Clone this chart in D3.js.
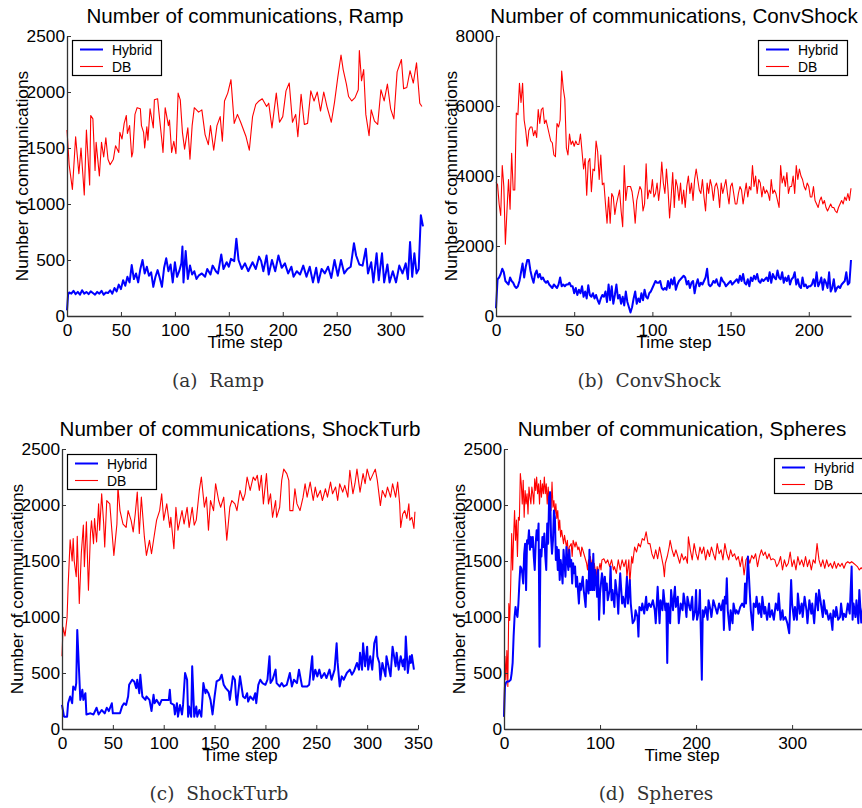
<!DOCTYPE html>
<html>
<head>
<meta charset="utf-8">
<script src="https://cdn.jsdelivr.net/npm/d3@7"></script>
<style>
  body { margin: 0; background: #fff; }
  svg { display: block; }
  text { font-family: "Liberation Sans", Arial, Helvetica, sans-serif; fill: #000; }
  .caption { font-family: "DejaVu Serif", serif; }
</style>
</head>
<body>
<svg id="chart" width="862" height="808"></svg>
<script>
// ---- data: [time step, number of communications] ----

const rampHybrid = [
  [0,50],[1,190],[2,210],[4,200],[6,225],[8,195],[10,215],[12,190],[14,230],[16,200],[18,215],[20,195],
  [22,220],[24,205],[26,190],[28,215],[30,200],[32,225],[34,190],[36,210],[38,205],[40,230],[42,200],
  [44,250],[46,220],[48,280],[50,240],[52,320],[54,270],[56,350],[58,300],[60,455],[62,330],[64,380],
  [66,300],[68,420],[70,500],[72,380],[74,440],[76,360],[78,390],[80,260],[82,350],[84,410],[86,340],
  [88,260],[90,430],[92,515],[94,400],[96,460],[98,300],[100,480],[102,350],[104,400],[106,470],[107,620],
  [108,300],[110,580],[112,330],[114,450],[116,370],[118,400],[120,330],[122,360],[125,380],[128,350],
  [130,420],[133,370],[135,450],[138,400],[140,380],[143,550],[145,420],[148,480],[150,440],[152,510],
  [155,490],[157,690],[159,500],[162,420],[165,470],[168,400],[172,480],[175,420],[178,530],[180,490],
  [182,400],[185,540],[187,370],[190,500],[193,400],[196,540],[199,430],[202,470],[205,380],[208,440],
  [210,350],[213,400],[216,370],[219,450],[222,350],[225,440],[228,300],[231,430],[233,300],[236,420],
  [239,380],[242,440],[245,340],[248,500],[251,360],[254,500],[257,380],[260,420],[263,440],[266,650],
  [268,540],[271,460],[274,450],[277,600],[279,380],[282,480],[284,300],[287,560],[289,320],[292,560],
  [294,300],[297,460],[299,300],[302,400],[305,300],[308,450],[311,380],[314,470],[316,330],[318,660],
  [320,350],[322,560],[324,380],[326,420],[328,900],[330,800]
];

const rampDB = [
  [0,1660],[2,1350],[5,1130],[8,1600],[11,1270],[13,1500],[16,1080],[18,1660],[21,1170],[22,1790],
  [24,1760],[26,1300],[27,1550],[30,1250],[32,1550],[34,1420],[36,1590],[38,1400],[40,1350],[43,1400],
  [45,1520],[48,1460],[49,1640],[51,1580],[53,1720],[55,1790],[56,1630],[58,1700],[60,1420],[61,1460],
  [63,1800],[65,1860],[68,1850],[69,1700],[71,1640],[72,1500],[74,1690],[75,1570],[77,1850],[80,1680],
  [81,1930],[84,1940],[85,1840],[88,1560],[89,1460],[91,1860],[94,1700],[95,1750],[97,1460],[99,1560],
  [101,1450],[103,1990],[105,1930],[107,1640],[109,1490],[112,1680],[114,1400],[116,1700],[118,1860],
  [122,1820],[125,1840],[128,1620],[131,1530],[133,1700],[136,1480],[139,1700],[142,1780],[144,1560],
  [146,1920],[149,1990],[152,2110],[155,1720],[158,1800],[161,1730],[166,1600],[169,1480],[172,1780],
  [175,1890],[178,1920],[181,1940],[185,1870],[187,1900],[190,1680],[194,1990],[197,1730],[200,1780],
  [203,2010],[206,2080],[209,1730],[212,1800],[214,1600],[217,1980],[220,1710],[223,1720],[226,2010],
  [229,1920],[232,2000],[235,1830],[238,2000],[241,1870],[245,1730],[248,1910],[251,2130],[254,2330],
  [256,2200],[259,2070],[261,1960],[264,1920],[267,1950],[270,2020],[271,2370],[273,2100],[275,2200],
  [277,1800],[280,1610],[282,1840],[285,1740],[288,1710],[291,2020],[294,1920],[297,2070],[300,1850],
  [303,1760],[306,2180],[310,2290],[312,2030],[315,2040],[318,2190],[321,2080],[324,2260],[327,1900],
  [329,1870]
];

// ConvShock: one value per time step, starting at step 0
const convShockHybrid = [
  220,1050,1100,1200,1350,1250,1000,950,900,1100,
  1000,950,850,800,850,1000,1250,1500,1100,1400,
  1600,1600,1300,1100,950,1200,1300,1100,1200,1050,
  1100,1000,950,1000,900,850,800,900,850,800,
  900,1100,850,900,850,900,900,950,850,850,
  650,800,600,750,650,850,550,700,500,880,
  600,550,650,500,600,450,350,500,600,550,
  700,400,900,450,850,350,600,900,500,600,
  350,550,300,700,400,250,100,250,500,700,
  350,500,400,650,450,750,550,500,650,700,
  800,900,1000,950,950,1000,800,750,800,750,
  1000,800,1050,900,1100,750,900,1000,1050,1100,
  1150,1100,900,1000,800,950,1000,650,900,1050,
  850,950,900,1000,1100,1350,900,850,900,1000,
  950,1050,900,850,1100,1000,950,850,900,950,
  1000,900,950,1000,1050,950,1150,1000,1200,950,
  900,1050,850,1100,1000,1150,1050,1200,1000,950,
  1050,1000,1050,1100,1000,1250,950,1200,1100,1050,
  1300,1100,1050,1250,950,1100,1000,1150,900,1050,
  1100,1250,900,1050,850,800,1100,850,900,800,
  850,850,900,1050,850,1250,850,950,1100,750,
  1050,950,800,1250,700,800,1050,700,800,850,
  800,900,950,1000,1250,900,950,1600
];

const convShockDB = [
  3820,3750,3200,2870,4300,3700,2050,3000,3900,3050,
  4650,3600,3600,5800,5750,6650,6100,6650,5600,5300,
  4850,5300,5400,5400,5150,5300,5100,5900,5500,5900,
  5950,5500,5600,5400,5200,5000,4950,4600,4550,5500,
  5400,5600,7000,6500,6200,4800,4600,5200,4900,5000,
  4850,5000,4900,4900,5200,4700,4200,4500,3450,4400,
  4500,3550,4200,4150,5000,4700,3900,4600,3750,3800,
  3200,2650,3400,2650,3500,3400,2900,3200,3400,3600,
  3000,2550,4300,3300,3700,3700,3700,3550,3200,2650,
  3300,3500,3700,3600,3000,3200,4350,3350,3600,3500,
  3900,3400,3500,3800,3300,3700,4400,3800,3500,4200,
  3600,2800,3400,4100,3100,3900,3700,3300,3800,3200,
  3600,3100,3700,4000,3500,3800,3300,3900,4200,3900,
  3600,3500,3900,3400,3000,3800,3500,3900,3700,3300,
  3700,3800,3600,3100,3800,3500,3700,3900,3500,3200,
  3700,3800,3500,3200,3200,3500,3700,3600,3200,3500,
  3800,3400,3700,3600,4300,3700,4000,3500,3900,3800,
  3400,3700,3500,3600,3500,3300,3900,3500,3600,3500,
  3300,3100,4300,3800,4000,3700,4100,3500,3700,3700,
  4000,3500,4300,3900,4200,4000,3900,3700,3600,3800,
  3700,3400,3400,3700,3300,3200,3100,3300,3400,3200,
  3300,3100,3000,3100,3200,3100,3100,3000,2950,3100,
  3200,3300,3200,3400,3300,3500,3300,3650
];

const shockTurbHybrid = [
  [0,215],[2,110],[5,110],[6,230],[8,290],[10,230],[11,380],[13,350],[14,410],[15,885],[17,470],
  [18,260],[20,350],[21,260],[23,320],[24,130],[28,140],[31,130],[34,190],[36,130],[39,170],[42,140],
  [44,190],[46,160],[49,230],[50,140],[57,140],[59,200],[61,230],[63,215],[65,290],[66,395],[69,440],
  [71,425],[73,365],[74,440],[76,320],[77,485],[79,290],[82,260],[83,290],[86,260],[88,160],[90,305],
  [91,230],[93,260],[96,215],[98,260],[101,260],[105,260],[106,350],[107,230],[110,215],[111,130],
  [113,230],[114,110],[116,215],[118,130],[119,215],[121,500],[123,440],[124,110],[125,200],[127,110],
  [128,560],[130,110],[132,200],[133,110],[135,170],[137,110],[139,410],[141,320],[142,350],[144,320],
  [146,260],[148,130],[150,290],[152,425],[155,440],[157,485],[159,395],[161,365],[164,335],[165,260],
  [168,470],[170,440],[171,290],[172,215],[175,470],[178,290],[180,275],[182,320],[183,245],[185,290],
  [188,260],[190,320],[191,230],[193,395],[195,440],[197,410],[200,395],[202,440],[204,650],[205,410],
  [207,440],[210,530],[211,410],[214,380],[216,410],[218,380],[221,395],[224,500],[226,380],[228,440],
  [231,410],[233,530],[236,380],[238,380],[241,380],[243,395],[246,650],[247,440],[249,530],[251,470],
  [253,530],[255,455],[258,500],[260,455],[263,530],[265,440],[268,530],[270,765],[271,590],[273,380],
  [275,470],[277,440],[280,500],[283,530],[285,485],[287,515],[290,590],[292,530],[293,680],[295,530],
  [296,765],[298,560],[300,735],[301,530],[303,650],[305,530],[307,765],[309,825],[310,650],[312,590],
  [313,440],[315,590],[318,470],[319,650],[321,560],[323,470],[325,735],[328,560],[329,680],[331,530],
  [333,650],[335,560],[336,620],[337,530],[338,825],[340,500],[342,650],[343,590],[344,660],[346,530]
];

const shockTurbDB = [
  [0,650],[1,910],[3,830],[5,1000],[6,1270],[8,1690],[10,1500],[11,1700],[12,1500],[14,1360],[15,1720],
  [17,1120],[19,1570],[21,1820],[22,1450],[24,1850],[26,1240],[28,1745],[29,1860],[31,1655],[32,1880],
  [34,1670],[36,2010],[37,1775],[39,2100],[41,1830],[42,1625],[44,2040],[47,2010],[49,1775],[51,1550],
  [54,1830],[55,2160],[57,1950],[60,1830],[63,1800],[65,1950],[68,1860],[70,1760],[72,1920],[74,2115],
  [76,1745],[78,2070],[81,1715],[83,1550],[86,1685],[88,1565],[90,1685],[93,1865],[96,1950],[98,2100],
  [100,1865],[103,2010],[106,1800],[107,1890],[110,1610],[112,1980],[114,1775],[118,1950],[120,1830],
  [123,1980],[125,1800],[128,1980],[130,1820],[132,1865],[135,2130],[137,2250],[140,1980],[142,2070],
  [144,1775],[146,2040],[149,1950],[151,2190],[154,2040],[156,1980],[159,2070],[162,1685],[165,1980],
  [167,2040],[170,2010],[172,1950],[175,2130],[178,2040],[180,2100],[182,2250],[185,2130],[188,2250],
  [190,2220],[192,2265],[194,2130],[196,2265],[198,2010],[201,2280],[203,2010],[205,2100],[207,1890],
  [210,2040],[211,1890],[214,1980],[216,2220],[218,2320],[221,2280],[223,2220],[224,1950],[227,1950],
  [229,2145],[231,2010],[234,1950],[237,2070],[239,2190],[241,2070],[244,2205],[247,2040],[249,2160],
  [251,2070],[254,2130],[256,2040],[259,2145],[261,2070],[264,2205],[266,2100],[269,2160],[271,2040],
  [273,2190],[276,2115],[278,2175],[281,2070],[283,2310],[286,2100],[288,2190],[290,2320],[293,2115],
  [296,2280],[298,2190],[300,2320],[303,2220],[306,2280],[308,2320],[310,2220],[313,1995],[315,2130],
  [318,2070],[320,2160],[323,2070],[325,2190],[328,2070],[330,2205],[332,2010],[333,1800],[335,1920],
  [337,1950],[339,1880],[341,2010],[342,1865],[344,1890],[346,1790],[347,1940]
];

const spheresHybrid = [
  [0,110],[1,380],[2,410],[3,425],[5,425],[7,440],[8,500],[9,590],[10,825],[11,1000],[12,1090],[13,1030],
  [14,1000],[15,1120],[16,1300],[17,1450],[18,1435],[19,1390],[20,1300],[21,1565],[22,1655],[23,1240],
  [24,1685],[25,1655],[26,1775],[27,1600],[28,1715],[29,1625],[30,1715],[31,1540],[32,1420],[33,1655],
  [34,1775],[35,1685],[36,1835],[37,735],[38,1600],[39,1540],[40,1715],[41,1625],[42,1745],[43,1540],
  [44,1420],[45,1835],[46,1655],[47,2070],[48,2115],[49,1715],[50,1565],[51,1685],[52,1950],[53,1890],
  [54,1510],[55,1625],[56,1420],[57,1600],[58,1330],[59,1510],[60,1420],[61,1300],[62,1600],[63,1480],
  [64,1360],[65,1625],[66,1510],[67,1420],[68,1600],[69,1450],[70,1510],[71,1300],[72,1480],[73,1390],
  [74,1450],[75,1270],[76,1360],[78,1120],[79,1300],[80,1240],[82,1360],[83,1240],[85,1090],[86,1330],
  [88,1210],[89,1600],[90,1240],[91,1480],[92,1240],[93,1565],[94,1240],[95,1420],[96,1330],[97,1180],
  [98,1420],[99,975],[100,1210],[101,1300],[102,1390],[103,1330],[104,1030],[105,1360],[106,1240],
  [107,1300],[108,1150],[110,1240],[111,1450],[112,1150],[113,1240],[115,1090],[116,1330],[118,1180],
  [119,1030],[120,1240],[121,1390],[123,1120],[124,1180],[126,1090],[128,1360],[129,1120],[130,1210],
  [131,1330],[132,1120],[134,945],[136,975],[137,1060],[139,1000],[140,825],[141,1090],[143,1060],
  [144,1120],[146,1030],[148,1180],[149,1060],[151,1120],[153,1090],[155,1150],[157,1060],[158,945],
  [160,1270],[162,945],[163,1150],[165,1060],[166,1240],[168,1060],[169,1120],[170,590],[171,1120],
  [173,945],[174,1240],[176,1060],[177,1180],[178,1270],[179,1090],[181,1180],[182,945],[184,1120],
  [186,1060],[187,1210],[189,1090],[190,1000],[191,1180],[193,1090],[194,1060],[196,1180],[197,975],
  [199,1060],[200,1240],[201,975],[203,1060],[204,1240],[206,440],[207,1060],[208,1000],[210,1090],
  [212,975],[213,1150],[215,1060],[216,1000],[218,1150],[220,1090],[222,1030],[224,1120],[226,1060],
  [228,1150],[229,885],[230,1180],[231,1120],[232,1345],[233,1060],[235,885],[236,1060],[238,945],
  [239,1120],[241,1030],[242,1060],[244,1030],[246,1090],[248,1120],[250,1090],[251,1300],[252,1120],
  [254,1540],[256,1210],[257,1060],[259,885],[260,1120],[262,1090],[263,1180],[265,1030],[266,1120],
  [268,1000],[269,1180],[271,1030],[272,1090],[274,975],[276,1120],[277,1000],[279,1060],[281,975],
  [283,1120],[285,1060],[286,1210],[288,975],[290,1060],[291,975],[293,1000],[295,945],[297,855],
  [299,1330],[300,1120],[302,975],[303,1090],[305,975],[306,1210],[308,1030],[310,1120],[311,1000],
  [313,1180],[315,1060],[316,945],[318,1150],[320,1030],[321,1120],[323,945],[325,1210],[327,1060],
  [328,1240],[330,1120],[332,1000],[333,1150],[335,1030],[336,1060],[338,975],[340,1030],[342,885],
  [343,1060],[345,1000],[346,1090],[348,975],[350,1000],[351,1120],[353,975],[354,1030],[356,1000],
  [358,1120],[360,1030],[362,1450],[363,975],[364,1120],[366,1000],[367,1150],[369,945],[370,1240],
  [372,950],[374,1100]
];

const spheresDB = [
  [0,110],[1,650],[2,440],[3,700],[4,380],[5,1120],[6,970],[7,1300],[8,1745],[9,1420],[10,1715],
  [11,1950],[12,1685],[13,1865],[14,1540],[15,1890],[16,1865],[17,2280],[18,2190],[19,2010],[20,2220],
  [21,1890],[22,2130],[23,2010],[24,2100],[25,1920],[26,2160],[27,2070],[28,2010],[29,2160],[30,2100],
  [31,2010],[32,2235],[33,2130],[34,2250],[35,2100],[36,2190],[37,2010],[38,2220],[39,2070],[40,2190],
  [41,2100],[42,2250],[43,2100],[44,2190],[45,2010],[46,2160],[47,2040],[48,2100],[49,1950],[50,2205],
  [51,1980],[52,2040],[53,1920],[54,2010],[55,1880],[56,1950],[57,1775],[58,1865],[59,1715],[60,1775],
  [62,1655],[63,1730],[65,1625],[66,1685],[67,1540],[68,1625],[70,1655],[71,1540],[72,1685],[74,1625],
  [75,1670],[77,1600],[78,1625],[80,1540],[81,1625],[82,1600],[84,1540],[86,1480],[87,1420],[88,1510],
  [89,1450],[90,1540],[91,1420],[92,1510],[93,1390],[94,1480],[95,1420],[96,1360],[97,1450],[98,1390],
  [100,1480],[101,1420],[102,1510],[104,1520],[106,1480],[108,1510],[110,1450],[112,1510],[114,1420],
  [115,1450],[117,1390],[119,1510],[121,1420],[123,1510],[125,1450],[127,1510],[128,1360],[130,1510],
  [131,1300],[133,1540],[134,1480],[136,1625],[138,1580],[140,1655],[142,1625],[144,1700],[146,1685],
  [148,1760],[150,1655],[152,1655],[154,1565],[156,1520],[158,1600],[160,1520],[162,1625],[164,1540],
  [166,1450],[167,1360],[168,1480],[170,1540],[172,1625],[173,1685],[175,1600],[177,1540],[179,1600],
  [181,1540],[183,1480],[185,1565],[187,1510],[189,1540],[191,1480],[192,1715],[194,1600],[196,1510],
  [198,1655],[200,1565],[202,1510],[204,1625],[206,1565],[208,1625],[210,1510],[212,1600],[214,1540],
  [216,1625],[218,1565],[220,1510],[222,1655],[224,1565],[226,1600],[228,1510],[230,1655],[232,1565],
  [234,1510],[236,1600],[238,1540],[240,1565],[242,1510],[244,1540],[246,1450],[248,1540],[250,1375],
  [252,1510],[254,1540],[256,1480],[258,1550],[260,1520],[262,1565],[264,1450],[266,1540],[268,1600],
  [270,1550],[272,1580],[274,1520],[276,1565],[278,1510],[280,1520],[282,1510],[284,1450],[286,1480],
  [288,1540],[290,1420],[292,1510],[294,1450],[296,1480],[298,1580],[300,1450],[302,1510],[304,1420],
  [306,1540],[308,1465],[310,1510],[312,1450],[314,1540],[316,1450],[318,1510],[320,1420],[322,1510],
  [324,1480],[326,1655],[328,1510],[330,1450],[332,1510],[334,1435],[336,1510],[338,1450],[340,1480],
  [342,1435],[344,1495],[346,1435],[348,1480],[350,1450],[352,1480],[354,1435],[356,1480],[358,1495],
  [360,1480],[362,1495],[364,1480],[366,1465],[368,1450],[370,1420],[372,1440],[374,1420]
];

const seriesNames = ["Hybrid", "DB"];
const ticks2500 = [0, 500, 1000, 1500, 2000, 2500];
const ticks8000 = [0, 2000, 4000, 6000, 8000];

// ---- panel layout (pixels) ----
const panels = [
  { title: "Number of communications, Ramp", caption: "(a)\u00a0 Ramp",
    hybrid: rampHybrid, db: rampDB, xMax: 330, yMax: 2500,
    xTicks: [0, 50, 100, 150, 200, 250, 300], yTicks: ticks2500,
    left: 67, top: 36, width: 356, mid: 245, captionX: 218, legendX: 72, legendY: 40 },
  { title: "Number of communications, ConvShock", caption: "(b)\u00a0 ConvShock",
    hybrid: convShockHybrid.map((v, i) => [i, v]), db: convShockDB.map((v, i) => [i, v]),
    xMax: 227, yMax: 8000,
    xTicks: [0, 50, 100, 150, 200], yTicks: ticks8000,
    left: 496, top: 36, width: 355, mid: 674, captionX: 649, legendX: 758, legendY: 40 },
  { title: "Number of communications, ShockTurb", caption: "(c)\u00a0 ShockTurb",
    hybrid: shockTurbHybrid, db: shockTurbDB, xMax: 350, yMax: 2500,
    xTicks: [0, 50, 100, 150, 200, 250, 300, 350], yTicks: ticks2500,
    left: 62, top: 449, width: 356, mid: 240, captionX: 219, legendX: 67, legendY: 454 },
  { title: "Number of communication, Spheres", caption: "(d)\u00a0 Spheres",
    hybrid: spheresHybrid, db: spheresDB, xMax: 378, yMax: 2500,
    xTicks: [0, 100, 200, 300], yTicks: ticks2500,
    left: 504, top: 449, width: 363, mid: 682, captionX: 656, legendX: 774, legendY: 458 }
];

const plotHeight = 280;
const colors = { Hybrid: "#0000ff", DB: "#ff0000" };
const widths = { Hybrid: 2, DB: 1.1 };
const fmt = d3.format("d");

const svg = d3.select("#chart");

panels.forEach(p => drawPanel(p));

function drawPanel(p) {
  const x = d3.scaleLinear().domain([0, p.xMax]).range([0, p.width]);
  const y = d3.scaleLinear().domain([0, p.yMax]).range([plotHeight, 0]);

  const g = svg.append("g").attr("transform", `translate(${p.left},${p.top})`);

  // series (DB first so the thicker Hybrid line sits on top)
  const line = d3.line().x(d => x(d[0])).y(d => y(d[1]));
  [["DB", p.db], ["Hybrid", p.hybrid]].forEach(([name, data]) => {
    g.append("path")
      .datum(data)
      .attr("fill", "none")
      .attr("stroke", colors[name])
      .attr("stroke-width", widths[name])
      .attr("stroke-linejoin", "round")
      .attr("d", line);
  });

  // axes, ticks pointing inward like MATLAB
  const yAxis = g.append("g")
    .call(d3.axisLeft(y).tickValues(p.yTicks).tickFormat(fmt)
      .tickSizeInner(-4).tickSizeOuter(0).tickPadding(2));
  const xAxis = g.append("g")
    .attr("transform", `translate(0,${plotHeight})`)
    .call(d3.axisBottom(x).tickValues(p.xTicks).tickFormat(fmt)
      .tickSizeInner(-4).tickSizeOuter(0).tickPadding(7.5));

  [yAxis, xAxis].forEach(a => {
    a.attr("font-size", null).attr("font-family", null);
    a.select(".domain").attr("stroke", "#333").attr("stroke-width", 1.3);
    a.selectAll(".tick line").attr("stroke", "#333");
    a.selectAll(".tick text").style("font-size", "17.3px");
  });

  // title and axis labels
  svg.append("text")
    .attr("x", p.mid).attr("y", p.top - 13)
    .attr("text-anchor", "middle")
    .style("font-size", "20.6px")
    .text(p.title);

  svg.append("text")
    .attr("x", p.mid).attr("y", p.top + plotHeight + 32)
    .attr("text-anchor", "middle")
    .style("font-size", "17.3px")
    .text("Time step");

  svg.append("text")
    .attr("transform", `translate(${p.left - 39},${p.top + plotHeight / 2}) rotate(-90)`)
    .attr("text-anchor", "middle")
    .style("font-size", "17.3px")
    .text("Number of communications");

  // legend
  const lg = svg.append("g").attr("transform", `translate(${p.legendX},${p.legendY})`);
  lg.append("rect")
    .attr("x", 0.5).attr("y", 0.5).attr("width", 89).attr("height", 35)
    .attr("fill", "#fff").attr("stroke", "#000").attr("stroke-width", 1.2);
  seriesNames.forEach((name, i) => {
    const ry = 9.5 + i * 17;
    lg.append("line")
      .attr("x1", 8).attr("x2", 31).attr("y1", ry).attr("y2", ry)
      .attr("stroke", colors[name]).attr("stroke-width", widths[name]);
    lg.append("text")
      .attr("x", 40).attr("y", ry).attr("dy", "0.36em")
      .style("font-size", "13.9px")
      .text(name);
  });

  // sub-figure caption
  svg.append("text")
    .attr("class", "caption")
    .attr("x", p.captionX).attr("y", p.top + plotHeight + 71)
    .attr("text-anchor", "middle")
    .style("font-size", "18.5px")
    .style("fill", "#333")
    .text(p.caption);
}
</script>
</body>
</html>
